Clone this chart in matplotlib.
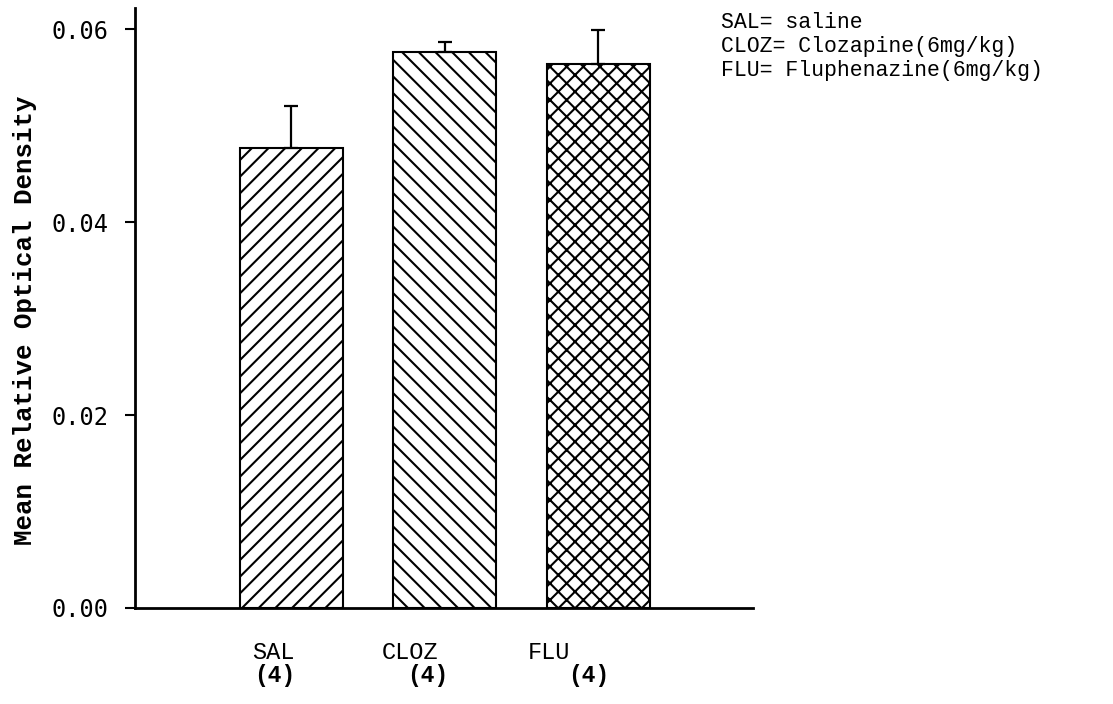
import numpy as np
import matplotlib
matplotlib.use('Agg')
import matplotlib.pyplot as plt

# values
groups = ['SAL', 'CLOZ', 'FLU']
counts = ['(4)', '(4)', '(4)']
means = [0.0477, 0.0576, 0.0564]
sems = [0.0043, 0.0011, 0.0035]
hatches = ['//', '\\\\', 'xx']
yticks = [0.00, 0.02, 0.04, 0.06]
key_lines = ['SAL= saline', 'CLOZ= Clozapine(6mg/kg)', 'FLU= Fluphenazine(6mg/kg)']

# label offsets from bar centres (labels sit left of the bars in the original)
name_shift = [-0.12, -0.23, -0.32]
count_shift = [-0.11, -0.11, -0.06]

plt.rcParams['hatch.linewidth'] = 1.5

fig = plt.figure(figsize=(11.13, 7.04), dpi=100)
ax = fig.add_axes([0.1213, 0.1364, 0.5553, 0.8522])

x = np.arange(len(groups))
ax.bar(x, means, width=0.671, color='white', edgecolor='black',
       linewidth=1.5, hatch=hatches, zorder=2)
ax.errorbar(x, means, yerr=[np.zeros(len(sems)), sems], fmt='none',
            ecolor='black', elinewidth=1.6, capsize=4.7, capthick=1.6,
            zorder=3)

ax.set_xlim(-1.02, 3.01)
ax.set_ylim(0, 0.0622)
ax.set_xticks([])
ax.set_yticks(yticks)
ax.set_yticklabels(['%.2f' % v for v in yticks], family='DejaVu Sans Mono',
                   fontsize=17)
ax.tick_params(axis='y', direction='out', length=7, width=1.5, pad=12)

for side in ('top', 'right'):
    ax.spines[side].set_visible(False)
ax.spines['left'].set_linewidth(2)
ax.spines['bottom'].set_linewidth(2)

ax.set_ylabel('Mean Relative Optical Density', family='Liberation Mono',
              fontweight='bold', fontsize=18.5)
ax.yaxis.set_label_coords(-0.159, 0.48)

trans = ax.get_xaxis_transform()
for i in range(len(groups)):
    ax.text(x[i] + name_shift[i], -0.075, groups[i], transform=trans,
            ha='center', va='center', family='Liberation Mono', fontsize=17)
    ax.text(x[i] + count_shift[i], -0.113, counts[i], transform=trans,
            ha='center', va='center', family='Liberation Mono',
            fontweight='bold', fontsize=16.5)

for k, line in enumerate(key_lines):
    fig.text(0.648, 0.968 - k * 0.034, line, ha='left', va='center',
             family='Liberation Mono', fontsize=15.5)

fig.savefig('out.png', dpi=100)
